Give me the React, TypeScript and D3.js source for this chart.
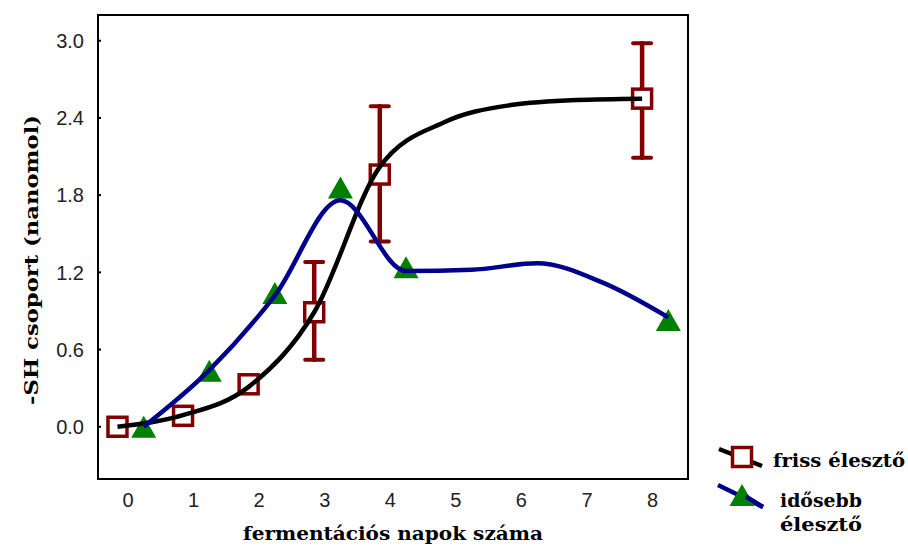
import React from 'react';
import * as d3 from 'd3';

// measured points (day, value)
const days = [0, 1, 2, 3, 4, 8];
const frissValues = [0.0, 0.085, 0.33, 0.89, 1.96, 2.55];
const frissErrLow = [null, null, null, 0.52, 1.44, 2.09];
const frissErrHigh = [null, null, null, 1.28, 2.49, 2.98];
const idosebbValues = [0.0, 0.435, 1.04, 1.86, 1.24, 0.83];

// smoothed curves at every day
const fitDays = [0, 1, 2, 3, 4, 5, 6, 7, 8];
const frissFit = [0.0, 0.09, 0.31, 0.89, 2.02, 2.37, 2.5, 2.54, 2.55];
const idosebbFit = [0.0, 0.44, 1.02, 1.76, 1.21, 1.22, 1.27, 1.12, 0.85];

const xTicks = [0, 1, 2, 3, 4, 5, 6, 7, 8];
const yTicks = [0, 0.6, 1.2, 1.8, 2.4, 3.0];

const RED = '#800000';
const GREEN = '#008000';
const BLUE = '#00008c';

export default function App() {
  const width = 908;
  const height = 546;
  const left = 98, right = 688, top = 15, bottom = 479;

  const x = d3.scaleLinear().domain([-0.457, 8.54]).range([left, right]);
  const y = d3.scaleLinear().domain([-0.406, 3.2]).range([bottom, top]);

  const sqOff = -0.16;
  const triOff = 0.24;

  const line = d3.line<number>().curve(d3.curveMonotoneX);
  const frissPath = line(fitDays.map((d, i) => [x(d + sqOff), y(frissFit[i])]) as any);
  const idoPath = line(fitDays.map((d, i) => [x(d + triOff), y(idosebbFit[i])]) as any);

  const sq = 19;
  const tri = (cx: number, cy: number, w = 25, h = 22) =>
    `M${cx},${cy - h / 2}L${cx + w / 2},${cy + h / 2}L${cx - w / 2},${cy + h / 2}Z`;

  const titleFont = "'DejaVu Serif', serif";
  const tickFont = "'Liberation Sans', Arial, sans-serif";

  return (
    <svg width={width} height={height} style={{ position: 'absolute', left: 0, top: 0, background: '#fff' }}>
      <rect x={0} y={0} width={width} height={height} fill="#fff" />
      {/* frame */}
      <rect x={left} y={top} width={right - left} height={bottom - top} fill="none" stroke="#000" strokeWidth={2} />
      {yTicks.map(t => (
        <g key={t}>
          <line x1={left} x2={left + 3} y1={y(t)} y2={y(t)} stroke="#000" strokeWidth={2} />
          <text x={84} y={y(t)} dy="0.36em" textAnchor="end" fontFamily={tickFont} fontSize={20} fill="#222">
            {t.toFixed(1)}
          </text>
        </g>
      ))}
      {xTicks.map(t => (
        <text key={t} x={x(t)} y={507} textAnchor="middle" fontFamily={tickFont} fontSize={20} fill="#222">
          {t}
        </text>
      ))}

      {/* error bars */}
      {days.map((d, i) => frissErrLow[i] == null ? null : (
        <g key={'e' + d} stroke={RED} strokeLinecap="round">
          <line x1={x(d + sqOff)} x2={x(d + sqOff)} y1={y(frissErrLow[i] as number)} y2={y(frissErrHigh[i] as number)} strokeWidth={4.5} />
          <line x1={x(d + sqOff) - 9} x2={x(d + sqOff) + 9} y1={y(frissErrLow[i] as number)} y2={y(frissErrLow[i] as number)} strokeWidth={4} />
          <line x1={x(d + sqOff) - 9} x2={x(d + sqOff) + 9} y1={y(frissErrHigh[i] as number)} y2={y(frissErrHigh[i] as number)} strokeWidth={4} />
        </g>
      ))}

      {/* markers */}
      {days.map((d, i) => (
        <rect key={'s' + d} x={x(d + sqOff) - sq / 2} y={y(frissValues[i]) - sq / 2} width={sq} height={sq}
          fill="#fff" stroke={RED} strokeWidth={3.5} />
      ))}
      {days.map((d, i) => (
        <path key={'t' + d} d={tri(x(d + triOff), y(idosebbValues[i]))} fill={GREEN} />
      ))}

      {/* curves */}
      <path d={frissPath || ''} fill="none" stroke="#000" strokeWidth={4.5} />
      <path d={idoPath || ''} fill="none" stroke={BLUE} strokeWidth={4.5} />

      {/* axis titles */}
      <text x={393} y={540} textAnchor="middle" fontFamily={titleFont} fontWeight="bold" fontSize={19}
        textLength={300} lengthAdjust="spacingAndGlyphs">fermentációs napok száma</text>
      <text transform="translate(38,260) rotate(-90)" textAnchor="middle" fontFamily={titleFont} fontWeight="bold"
        fontSize={19} textLength={290} lengthAdjust="spacingAndGlyphs">-SH csoport (nanomol)</text>

      {/* legend */}
      <line x1={719} y1={449} x2={762} y2={466} stroke="#000" strokeWidth={4.5} />
      <rect x={742 - sq / 2} y={457 - sq / 2} width={sq} height={sq} fill="#fff" stroke={RED} strokeWidth={3.5} />
      <text x={773} y={467} fontFamily={titleFont} fontWeight="bold" fontSize={19} textLength={132} lengthAdjust="spacingAndGlyphs">friss élesztő</text>

      <line x1={718} y1={485} x2={763} y2={507} stroke={BLUE} strokeWidth={4.5} />
      <path d={tri(742, 495)} fill={GREEN} />
      <line x1={746} y1={496.5} x2={763} y2={507} stroke={BLUE} strokeWidth={4.5} />
      <text x={780} y={507} fontFamily={titleFont} fontWeight="bold" fontSize={19} textLength={82} lengthAdjust="spacingAndGlyphs">idősebb</text>
      <text x={780} y={531} fontFamily={titleFont} fontWeight="bold" fontSize={19} textLength={82} lengthAdjust="spacingAndGlyphs">élesztő</text>
    </svg>
  );
}
